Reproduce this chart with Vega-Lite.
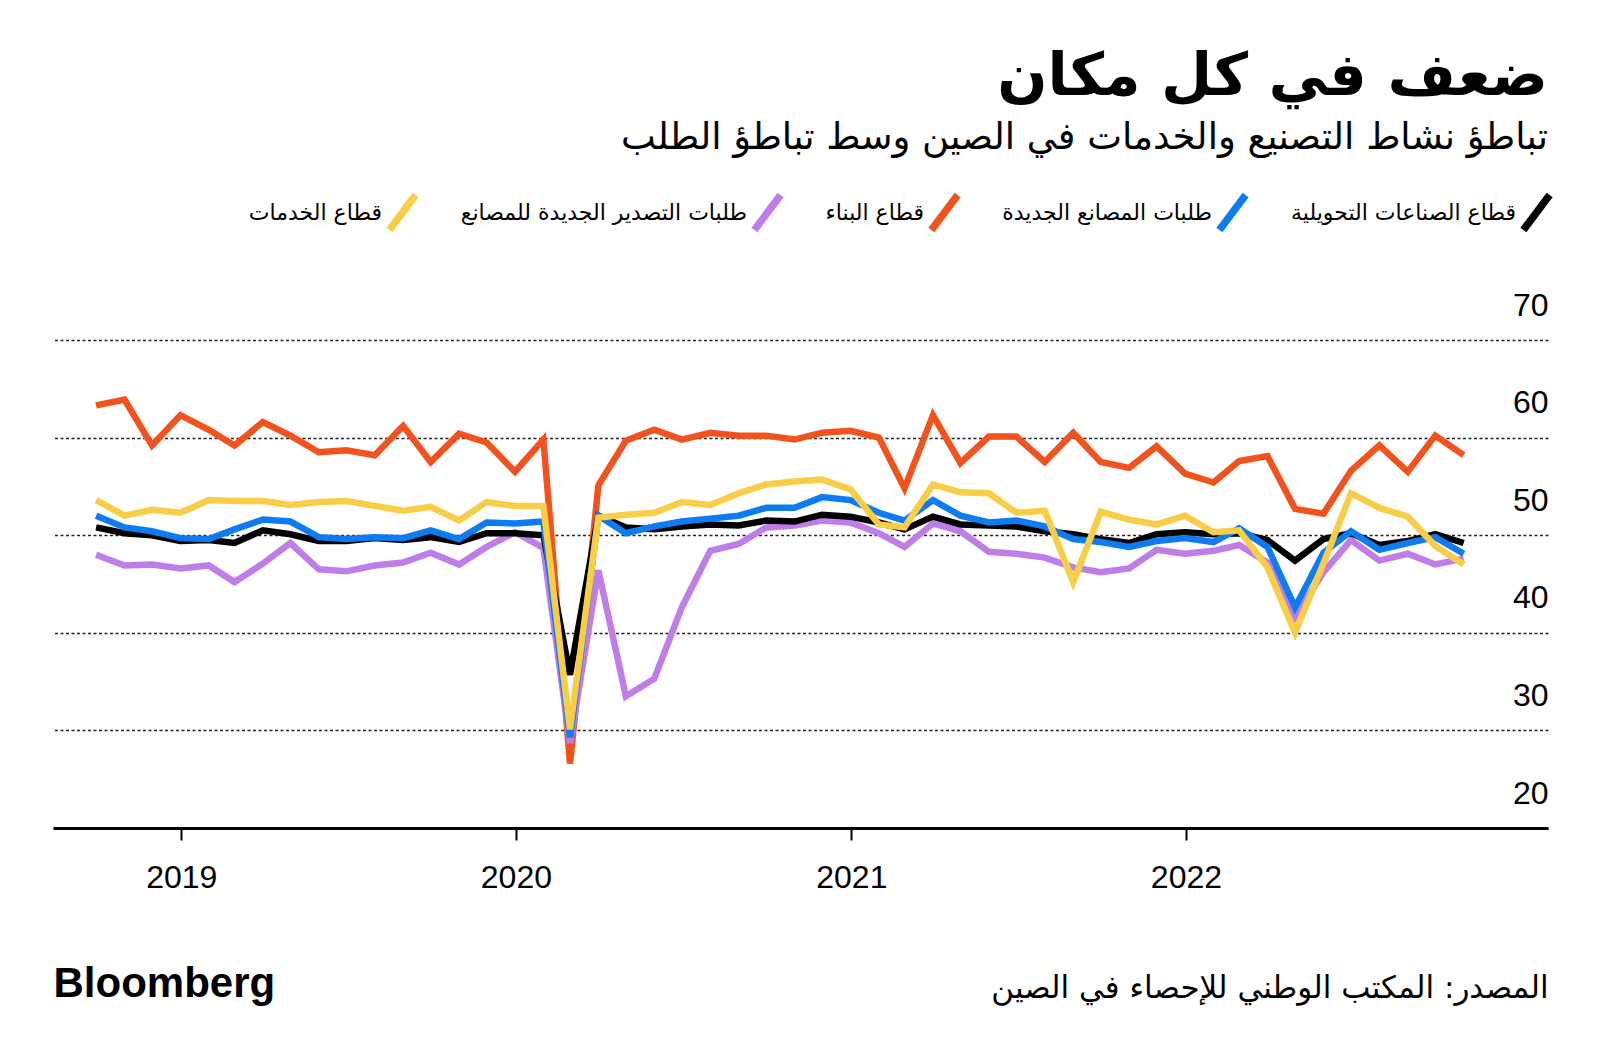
{
  "$schema": "https://vega.github.io/schema/vega-lite/v6.json",
  "width": 1495,
  "height": 488,
  "autosize": {"type": "none"},
  "padding": {"left": 53, "top": 340, "right": 52, "bottom": 235},
  "background": "white",
  "config": {"view": {"stroke": null}},
  "title": {
    "text": "ضعف في كل مكان",
    "subtitle": "تباطؤ نشاط التصنيع والخدمات في الصين وسط تباطؤ الطلب",
    "anchor": "end",
    "frame": "group",
    "orient": "top",
    "font": "DejaVu Sans",
    "fontSize": 59,
    "fontWeight": "bold",
    "color": "#000000",
    "subtitleFont": "DejaVu Sans",
    "subtitleFontSize": 37,
    "subtitleColor": "#000000",
    "subtitlePadding": 13,
    "offset": 35
  },
  "datasets": {
    "con": [
      {"d": "2018-09-30", "v": 63.3}, {"d": "2018-10-31", "v": 63.9}, {"d": "2018-11-30", "v": 59.2}, {"d": "2018-12-31", "v": 62.3},
      {"d": "2019-01-31", "v": 60.8}, {"d": "2019-02-28", "v": 59.2}, {"d": "2019-03-31", "v": 61.6}, {"d": "2019-04-30", "v": 60.2},
      {"d": "2019-05-31", "v": 58.5}, {"d": "2019-06-30", "v": 58.7}, {"d": "2019-07-31", "v": 58.2}, {"d": "2019-08-31", "v": 61.2},
      {"d": "2019-09-30", "v": 57.5}, {"d": "2019-10-31", "v": 60.4}, {"d": "2019-11-30", "v": 59.5}, {"d": "2019-12-31", "v": 56.5},
      {"d": "2020-01-31", "v": 59.8}, {"d": "2020-02-29", "v": 26.6}, {"d": "2020-03-31", "v": 55.1}, {"d": "2020-04-30", "v": 59.7},
      {"d": "2020-05-31", "v": 60.8}, {"d": "2020-06-30", "v": 59.8}, {"d": "2020-07-31", "v": 60.5}, {"d": "2020-08-31", "v": 60.2},
      {"d": "2020-09-30", "v": 60.2}, {"d": "2020-10-31", "v": 59.8}, {"d": "2020-11-30", "v": 60.5}, {"d": "2020-12-31", "v": 60.7},
      {"d": "2021-01-31", "v": 60.0}, {"d": "2021-02-28", "v": 54.8}, {"d": "2021-03-31", "v": 62.3}, {"d": "2021-04-30", "v": 57.4},
      {"d": "2021-05-31", "v": 60.1}, {"d": "2021-06-30", "v": 60.1}, {"d": "2021-07-31", "v": 57.5}, {"d": "2021-08-31", "v": 60.5},
      {"d": "2021-09-30", "v": 57.5}, {"d": "2021-10-31", "v": 56.9}, {"d": "2021-11-30", "v": 59.1}, {"d": "2021-12-31", "v": 56.3},
      {"d": "2022-01-31", "v": 55.4}, {"d": "2022-02-28", "v": 57.6}, {"d": "2022-03-31", "v": 58.1}, {"d": "2022-04-30", "v": 52.7},
      {"d": "2022-05-31", "v": 52.2}, {"d": "2022-06-30", "v": 56.6}, {"d": "2022-07-31", "v": 59.2}, {"d": "2022-08-31", "v": 56.5},
      {"d": "2022-09-30", "v": 60.2}, {"d": "2022-10-31", "v": 58.2}
    ],
    "exp": [
      {"d": "2018-09-30", "v": 48.0}, {"d": "2018-10-31", "v": 46.9}, {"d": "2018-11-30", "v": 47.0}, {"d": "2018-12-31", "v": 46.6},
      {"d": "2019-01-31", "v": 46.9}, {"d": "2019-02-28", "v": 45.2}, {"d": "2019-03-31", "v": 47.1}, {"d": "2019-04-30", "v": 49.2},
      {"d": "2019-05-31", "v": 46.5}, {"d": "2019-06-30", "v": 46.3}, {"d": "2019-07-31", "v": 46.9}, {"d": "2019-08-31", "v": 47.2},
      {"d": "2019-09-30", "v": 48.2}, {"d": "2019-10-31", "v": 47.0}, {"d": "2019-11-30", "v": 48.8}, {"d": "2019-12-31", "v": 50.3},
      {"d": "2020-01-31", "v": 48.7}, {"d": "2020-02-29", "v": 28.7}, {"d": "2020-03-31", "v": 46.4}, {"d": "2020-04-30", "v": 33.5},
      {"d": "2020-05-31", "v": 35.3}, {"d": "2020-06-30", "v": 42.6}, {"d": "2020-07-31", "v": 48.4}, {"d": "2020-08-31", "v": 49.1},
      {"d": "2020-09-30", "v": 50.8}, {"d": "2020-10-31", "v": 51.0}, {"d": "2020-11-30", "v": 51.5}, {"d": "2020-12-31", "v": 51.3},
      {"d": "2021-01-31", "v": 50.2}, {"d": "2021-02-28", "v": 48.8}, {"d": "2021-03-31", "v": 51.2}, {"d": "2021-04-30", "v": 50.4},
      {"d": "2021-05-31", "v": 48.3}, {"d": "2021-06-30", "v": 48.1}, {"d": "2021-07-31", "v": 47.7}, {"d": "2021-08-31", "v": 46.7},
      {"d": "2021-09-30", "v": 46.2}, {"d": "2021-10-31", "v": 46.6}, {"d": "2021-11-30", "v": 48.5}, {"d": "2021-12-31", "v": 48.1},
      {"d": "2022-01-31", "v": 48.4}, {"d": "2022-02-28", "v": 49.0}, {"d": "2022-03-31", "v": 47.2}, {"d": "2022-04-30", "v": 41.6},
      {"d": "2022-05-31", "v": 46.2}, {"d": "2022-06-30", "v": 49.5}, {"d": "2022-07-31", "v": 47.4}, {"d": "2022-08-31", "v": 48.1},
      {"d": "2022-09-30", "v": 47.0}, {"d": "2022-10-31", "v": 47.6}
    ],
    "mfg": [
      {"d": "2018-09-30", "v": 50.8}, {"d": "2018-10-31", "v": 50.2}, {"d": "2018-11-30", "v": 50.0}, {"d": "2018-12-31", "v": 49.4},
      {"d": "2019-01-31", "v": 49.5}, {"d": "2019-02-28", "v": 49.2}, {"d": "2019-03-31", "v": 50.5}, {"d": "2019-04-30", "v": 50.1},
      {"d": "2019-05-31", "v": 49.4}, {"d": "2019-06-30", "v": 49.4}, {"d": "2019-07-31", "v": 49.7}, {"d": "2019-08-31", "v": 49.5},
      {"d": "2019-09-30", "v": 49.8}, {"d": "2019-10-31", "v": 49.3}, {"d": "2019-11-30", "v": 50.2}, {"d": "2019-12-31", "v": 50.2},
      {"d": "2020-01-31", "v": 50.0}, {"d": "2020-02-29", "v": 35.7}, {"d": "2020-03-31", "v": 52.0}, {"d": "2020-04-30", "v": 50.8},
      {"d": "2020-05-31", "v": 50.6}, {"d": "2020-06-30", "v": 50.9}, {"d": "2020-07-31", "v": 51.1}, {"d": "2020-08-31", "v": 51.0},
      {"d": "2020-09-30", "v": 51.5}, {"d": "2020-10-31", "v": 51.4}, {"d": "2020-11-30", "v": 52.1}, {"d": "2020-12-31", "v": 51.9},
      {"d": "2021-01-31", "v": 51.3}, {"d": "2021-02-28", "v": 50.6}, {"d": "2021-03-31", "v": 51.9}, {"d": "2021-04-30", "v": 51.1},
      {"d": "2021-05-31", "v": 51.0}, {"d": "2021-06-30", "v": 50.9}, {"d": "2021-07-31", "v": 50.4}, {"d": "2021-08-31", "v": 50.1},
      {"d": "2021-09-30", "v": 49.6}, {"d": "2021-10-31", "v": 49.2}, {"d": "2021-11-30", "v": 50.1}, {"d": "2021-12-31", "v": 50.3},
      {"d": "2022-01-31", "v": 50.1}, {"d": "2022-02-28", "v": 50.2}, {"d": "2022-03-31", "v": 49.5}, {"d": "2022-04-30", "v": 47.4},
      {"d": "2022-05-31", "v": 49.6}, {"d": "2022-06-30", "v": 50.2}, {"d": "2022-07-31", "v": 49.0}, {"d": "2022-08-31", "v": 49.4},
      {"d": "2022-09-30", "v": 50.1}, {"d": "2022-10-31", "v": 49.2}
    ],
    "ord": [
      {"d": "2018-09-30", "v": 52.0}, {"d": "2018-10-31", "v": 50.8}, {"d": "2018-11-30", "v": 50.4}, {"d": "2018-12-31", "v": 49.7},
      {"d": "2019-01-31", "v": 49.6}, {"d": "2019-02-28", "v": 50.6}, {"d": "2019-03-31", "v": 51.6}, {"d": "2019-04-30", "v": 51.4},
      {"d": "2019-05-31", "v": 49.8}, {"d": "2019-06-30", "v": 49.6}, {"d": "2019-07-31", "v": 49.8}, {"d": "2019-08-31", "v": 49.7},
      {"d": "2019-09-30", "v": 50.5}, {"d": "2019-10-31", "v": 49.6}, {"d": "2019-11-30", "v": 51.3}, {"d": "2019-12-31", "v": 51.2},
      {"d": "2020-01-31", "v": 51.4}, {"d": "2020-02-29", "v": 29.3}, {"d": "2020-03-31", "v": 52.0}, {"d": "2020-04-30", "v": 50.2},
      {"d": "2020-05-31", "v": 50.9}, {"d": "2020-06-30", "v": 51.4}, {"d": "2020-07-31", "v": 51.7}, {"d": "2020-08-31", "v": 52.0},
      {"d": "2020-09-30", "v": 52.8}, {"d": "2020-10-31", "v": 52.8}, {"d": "2020-11-30", "v": 53.9}, {"d": "2020-12-31", "v": 53.6},
      {"d": "2021-01-31", "v": 52.3}, {"d": "2021-02-28", "v": 51.5}, {"d": "2021-03-31", "v": 53.6}, {"d": "2021-04-30", "v": 52.0},
      {"d": "2021-05-31", "v": 51.3}, {"d": "2021-06-30", "v": 51.5}, {"d": "2021-07-31", "v": 50.9}, {"d": "2021-08-31", "v": 49.6},
      {"d": "2021-09-30", "v": 49.3}, {"d": "2021-10-31", "v": 48.8}, {"d": "2021-11-30", "v": 49.4}, {"d": "2021-12-31", "v": 49.7},
      {"d": "2022-01-31", "v": 49.3}, {"d": "2022-02-28", "v": 50.7}, {"d": "2022-03-31", "v": 48.8}, {"d": "2022-04-30", "v": 42.6},
      {"d": "2022-05-31", "v": 48.2}, {"d": "2022-06-30", "v": 50.4}, {"d": "2022-07-31", "v": 48.5}, {"d": "2022-08-31", "v": 49.2},
      {"d": "2022-09-30", "v": 49.8}, {"d": "2022-10-31", "v": 48.1}
    ],
    "srv": [
      {"d": "2018-09-30", "v": 53.6}, {"d": "2018-10-31", "v": 52.0}, {"d": "2018-11-30", "v": 52.6}, {"d": "2018-12-31", "v": 52.3},
      {"d": "2019-01-31", "v": 53.6}, {"d": "2019-02-28", "v": 53.5}, {"d": "2019-03-31", "v": 53.5}, {"d": "2019-04-30", "v": 53.1},
      {"d": "2019-05-31", "v": 53.4}, {"d": "2019-06-30", "v": 53.5}, {"d": "2019-07-31", "v": 53.0}, {"d": "2019-08-31", "v": 52.5},
      {"d": "2019-09-30", "v": 52.9}, {"d": "2019-10-31", "v": 51.5}, {"d": "2019-11-30", "v": 53.4}, {"d": "2019-12-31", "v": 53.0},
      {"d": "2020-01-31", "v": 53.0}, {"d": "2020-02-29", "v": 30.1}, {"d": "2020-03-31", "v": 51.8}, {"d": "2020-04-30", "v": 52.1},
      {"d": "2020-05-31", "v": 52.3}, {"d": "2020-06-30", "v": 53.4}, {"d": "2020-07-31", "v": 53.1}, {"d": "2020-08-31", "v": 54.3},
      {"d": "2020-09-30", "v": 55.2}, {"d": "2020-10-31", "v": 55.5}, {"d": "2020-11-30", "v": 55.7}, {"d": "2020-12-31", "v": 54.7},
      {"d": "2021-01-31", "v": 51.1}, {"d": "2021-02-28", "v": 50.8}, {"d": "2021-03-31", "v": 55.2}, {"d": "2021-04-30", "v": 54.4},
      {"d": "2021-05-31", "v": 54.3}, {"d": "2021-06-30", "v": 52.3}, {"d": "2021-07-31", "v": 52.5}, {"d": "2021-08-31", "v": 45.2},
      {"d": "2021-09-30", "v": 52.4}, {"d": "2021-10-31", "v": 51.6}, {"d": "2021-11-30", "v": 51.1}, {"d": "2021-12-31", "v": 52.0},
      {"d": "2022-01-31", "v": 50.3}, {"d": "2022-02-28", "v": 50.5}, {"d": "2022-03-31", "v": 46.7}, {"d": "2022-04-30", "v": 40.0},
      {"d": "2022-05-31", "v": 47.1}, {"d": "2022-06-30", "v": 54.3}, {"d": "2022-07-31", "v": 52.8}, {"d": "2022-08-31", "v": 51.9},
      {"d": "2022-09-30", "v": 48.9}, {"d": "2022-10-31", "v": 47.0}
    ]
  },
  "encoding": {
    "x": {
      "field": "d",
      "type": "temporal",
      "scale": {"domain": [{"year": 2018, "month": 8, "date": 14}, {"year": 2023, "month": 1, "date": 31}]},
      "axis": {
        "values": [{"year": 2019, "month": 1, "date": 1}, {"year": 2020, "month": 1, "date": 1}, {"year": 2021, "month": 1, "date": 1}, {"year": 2022, "month": 1, "date": 1}],
        "format": "%Y",
        "grid": false,
        "domainColor": "#000000",
        "domainWidth": 3,
        "tickColor": "#000000",
        "tickWidth": 2,
        "tickSize": 12,
        "labelFont": "Liberation Sans",
        "labelFontSize": 32,
        "labelColor": "#000000",
        "labelPadding": 47,
        "labelBaseline": "alphabetic",
        "labelFlush": false,
        "title": "المصدر: المكتب الوطني للإحصاء في الصين",
        "titleX": 1495,
        "titleY": 169,
        "titleAlign": "right",
        "titleBaseline": "alphabetic",
        "titleFont": "DejaVu Sans",
        "titleFontSize": 31,
        "titleFontWeight": "normal",
        "titleColor": "#000000"
      }
    },
    "y": {
      "field": "v",
      "type": "quantitative",
      "scale": {"domain": [20, 70], "nice": false, "zero": false},
      "axis": {
        "orient": "right",
        "values": [20, 30, 40, 50, 60, 70],
        "domain": false,
        "ticks": false,
        "tickSize": 0,
        "labelAlign": "right",
        "labelPadding": 0,
        "labelBaseline": "alphabetic",
        "labelOffset": -25,
        "labelFlush": false,
        "labelFont": "Liberation Sans",
        "labelFontSize": 32,
        "labelColor": "#000000",
        "grid": true,
        "gridColor": "#222222",
        "gridDash": [3, 2.5],
        "gridWidth": 1.5,
        "title": "Bloomberg",
        "titleX": -1495,
        "titleY": 656,
        "titleAngle": 0,
        "titleAlign": "left",
        "titleBaseline": "alphabetic",
        "titleFont": "Liberation Sans",
        "titleFontSize": 42,
        "titleFontWeight": "bold",
        "titleColor": "#000000"
      }
    }
  },
  "layer": [
    {
      "data": {"name": "con"},
      "mark": {"type": "line", "strokeWidth": 6.5},
      "encoding": {
        "color": {
          "datum": "قطاع البناء",
          "type": "nominal",
          "scale": {
            "domain": ["قطاع الخدمات", "طلبات التصدير الجديدة للمصانع", "قطاع البناء", "طلبات المصانع الجديدة", "قطاع الصناعات التحويلية"],
            "range": ["#f8ce46", "#be7de8", "#f4521c", "#0d7cf2", "#000000"]
          },
          "legend": {
            "orient": "none",
            "legendX": 328,
            "legendY": -149,
            "direction": "horizontal",
            "columns": 5,
            "title": null,
            "symbolType": "M-0.75,1L0.75,-1",
            "symbolSize": 1225,
            "symbolStrokeWidth": 7.5,
            "labelFont": "DejaVu Sans",
            "labelFontSize": 22,
            "labelColor": "#000000",
            "labelAlign": "right",
            "labelOffset": -42,
            "labelLimit": 800,
            "columnPadding": 29,
            "padding": 0
          }
        }
      }
    },
    {
      "data": {"name": "exp"},
      "mark": {"type": "line", "strokeWidth": 6.5},
      "encoding": {"color": {"datum": "طلبات التصدير الجديدة للمصانع", "type": "nominal"}}
    },
    {
      "data": {"name": "mfg"},
      "mark": {"type": "line", "strokeWidth": 6.5},
      "encoding": {"color": {"datum": "قطاع الصناعات التحويلية", "type": "nominal"}}
    },
    {
      "data": {"name": "ord"},
      "mark": {"type": "line", "strokeWidth": 6.5},
      "encoding": {"color": {"datum": "طلبات المصانع الجديدة", "type": "nominal"}}
    },
    {
      "data": {"name": "srv"},
      "mark": {"type": "line", "strokeWidth": 6.5},
      "encoding": {"color": {"datum": "قطاع الخدمات", "type": "nominal"}}
    }
  ]
}
